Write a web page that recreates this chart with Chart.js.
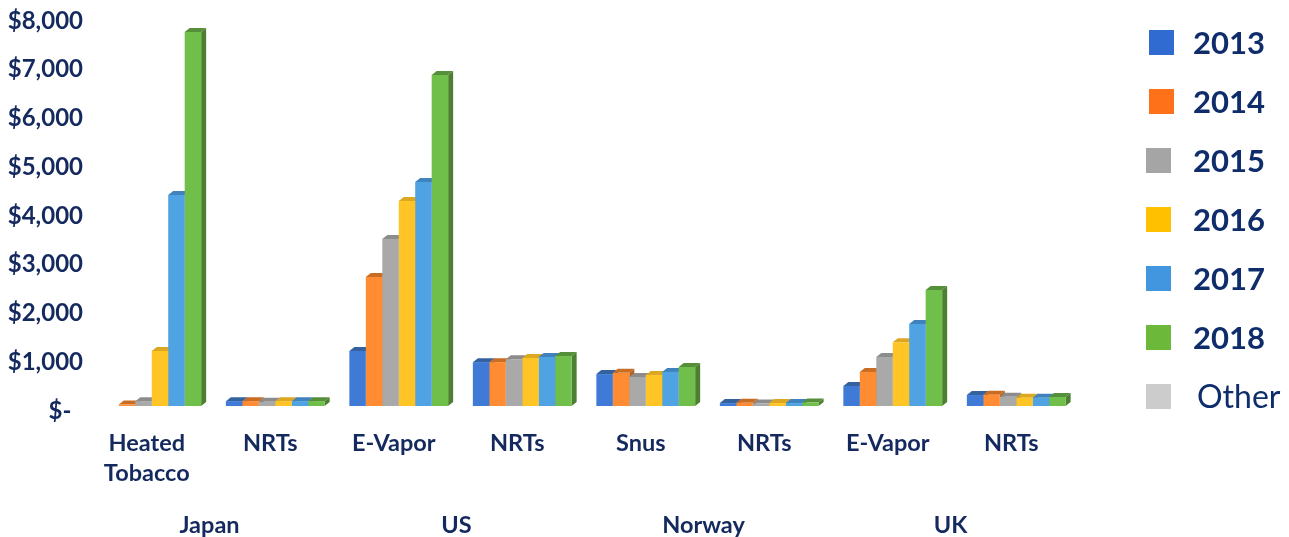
<!DOCTYPE html>
<html>
<head>
<meta charset="utf-8">
<script src="https://cdn.jsdelivr.net/npm/chart.js@4"></script>
<style>
  html, body { margin: 0; background: #fff; }
  #wrap { position: relative; width: 1289px; height: 537px; overflow: hidden; }
  canvas { display: block; }
  .key { position: absolute; left: 0; top: 0; color: #0f2d6b; font: bold 31px Lato, sans-serif; white-space: nowrap; }
  .key i { position: absolute; width: 25px; height: 25px; }
  .key span { position: absolute; line-height: 30px; }
</style>
</head>
<body>
<div id="wrap">
  <canvas id="chart-1" width="1289" height="537"></canvas>
</div>
<script>
const categories = [["Heated", "Tobacco"], "NRTs", "E-Vapor", "NRTs", "Snus", "NRTs", "E-Vapor", "NRTs"];
const countries = ["Japan", "US", "Norway", "UK"];
const yTickLabels = ["$-  ", "$1,000", "$2,000", "$3,000", "$4,000", "$5,000", "$6,000", "$7,000", "$8,000"];
const legendLabels = ["2013", "2014", "2015", "2016", "2017", "2018", "Other"];

const values2013 = [0, 100, 1130, 900, 655, 60, 410, 225];
const values2014 = [30, 100, 2645, 900, 680, 65, 700, 230];
const values2015 = [100, 85, 3425, 960, 595, 50, 1005, 190];
const values2016 = [1130, 100, 4205, 985, 635, 60, 1310, 170];
const values2017 = [4330, 100, 4595, 1005, 700, 60, 1680, 170];
const values2018 = [7670, 100, 6790, 1025, 800, 70, 2380, 185];

const navy = "#14295e";
const fronts = ["#3f7bd6", "#ff8c33", "#a9a9a9", "#ffc526", "#4fa3e3", "#70bf4b"];
const tops = ["#33629f", "#c96c24", "#8c8c8c", "#dca822", "#3f82bd", "#568f3a"];
const sides = ["#2c5699", "#b5621f", "#777777", "#b58a17", "#34719f", "#4c7f32"];
const keyColors = ["#2f6bd0", "#ff7119", "#a5a5a5", "#ffc000", "#4296e0", "#6cb83a", "#cccccc"];
const keyX = [1149, 1149, 1146, 1146, 1146, 1146, 1146];

// top and side faces of every bar, fronts are left to Chart.js
const bar3d = {
  id: "bar3d",
  beforeDatasetsDraw(chart) {
    const c = chart.ctx, dx = 5, dy = 4;
    chart.data.datasets.forEach((ds, i) => {
      chart.getDatasetMeta(i).data.forEach((bar, j) => {
        if (!ds.data[j]) return;
        const p = bar.getProps(["x", "y", "base", "width"], true);
        const l = p.x - p.width / 2, r = p.x + p.width / 2;
        c.fillStyle = sides[i];
        c.beginPath();
        c.moveTo(r, p.y);
        c.lineTo(r + dx, p.y - dy);
        c.lineTo(r + dx, p.base - dy);
        c.lineTo(r, p.base);
        c.fill();
        c.fillStyle = tops[i];
        c.beginPath();
        c.moveTo(l, p.y);
        c.lineTo(l + dx, p.y - dy);
        c.lineTo(r + dx, p.y - dy);
        c.lineTo(r, p.y);
        c.fill();
      });
    });
  }
};

const series = [values2013, values2014, values2015, values2016, values2017, values2018];

const ctx1 = document.getElementById("chart-1").getContext("2d");
const myChart1 = new Chart(ctx1, {
  type: "bar",
  data: {
    labels: categories,
    datasets: series.map((vals, i) => ({
      label: legendLabels[i],
      data: vals,
      backgroundColor: fronts[i],
      barPercentage: 1,
      categoryPercentage: 0.8,
    })),
  },
  plugins: [bar3d],
  options: {
    responsive: false,
    animation: false,
    devicePixelRatio: 1,
    layout: { padding: { top: 16, right: 211, left: 0, bottom: 0 } },
    plugins: { legend: { display: false }, tooltip: { enabled: false } },
    scales: {
      x: {
        grid: { display: false },
        border: { display: false },
        afterFit: (s) => { s.height = 94; },
        ticks: {
          color: navy,
          font: { family: "Lato", weight: "bold", size: 23.5, lineHeight: 1.28 },
          padding: 14,
          labelOffset: -5,
          maxRotation: 0,
          autoSkip: false,
        },
      },
      x2: {
        type: "category",
        labels: countries,
        position: "bottom",
        grid: { display: false },
        border: { display: false },
        afterFit: (s) => { s.height = 37; },
        ticks: {
          color: navy,
          font: { family: "Lato", weight: "bold", size: 23.5 },
          padding: 3,
          labelOffset: -4,
          maxRotation: 0,
        },
      },
      y: {
        min: 0,
        max: 8000,
        grid: { display: false, drawTicks: false },
        border: { display: false },
        afterFit: (s) => { s.width = 90; s.paddingTop = 0; s.paddingBottom = 0; },
        ticks: {
          stepSize: 1000,
          color: navy,
          padding: 7,
          labelOffset: 5,
          font: { family: "Lato", weight: "bold", size: 24 },
          callback: function(value) {
            return yTickLabels[value / 1000];
          },
        },
      },
    },
  },
});

// legend is plain markup so "Other" can keep its lighter weight
const wrap = document.getElementById("wrap");
legendLabels.forEach((name, i) => {
  const row = document.createElement("div");
  const other = name === "Other";
  row.className = "key";
  row.style.top = i * 59 + "px";
  if (other) { row.style.fontWeight = "normal"; row.style.fontSize = "32px"; }
  row.innerHTML = '<i style="left:' + keyX[i] + 'px;top:30px;background:' + keyColors[i] + '"></i>'
    + '<span style="left:' + (other ? 1197 : 1193) + 'px;top:27px">' + name + "</span>";
  wrap.appendChild(row);
});
</script>
</body>
</html>
